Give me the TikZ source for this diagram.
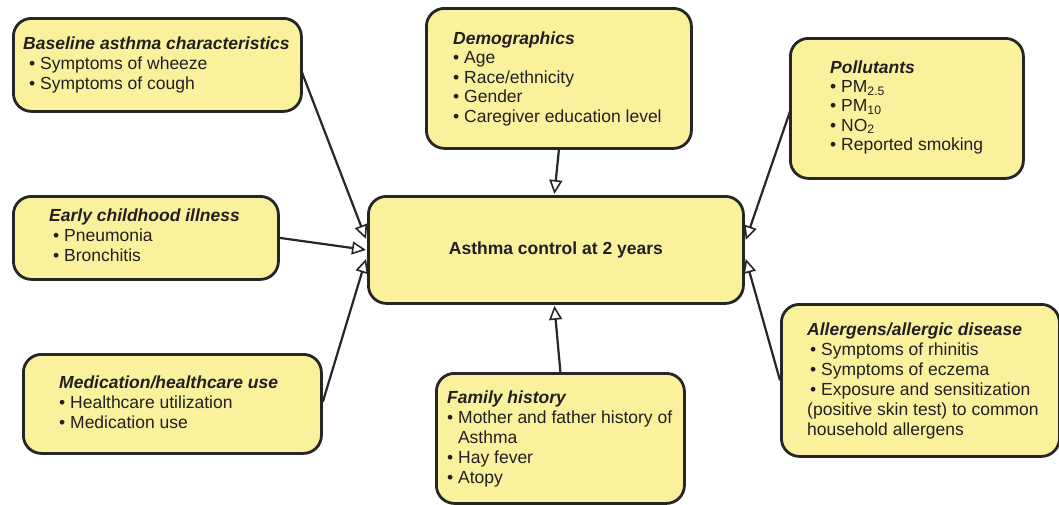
\documentclass[tikz,border=0pt]{standalone}
\usepackage{fontspec}
\setmainfont{Liberation Sans}
\usetikzlibrary{arrows.meta,calc}
\definecolor{boxfill}{RGB}{250,241,157}
\definecolor{boxline}{RGB}{38,38,38}
\definecolor{txtcol}{RGB}{35,31,32}
\newcommand{\hd}[1]{{\bfseries\itshape #1}}
\newcommand{\bl}{\textbullet\ }
\begin{document}
\begin{tikzpicture}[x=1pt,y=-1pt,
 box/.style={draw=boxline, fill=boxfill, line width=2.8pt, rounded corners=18pt, anchor=north west, inner sep=0pt},
 txt/.style={anchor=north west, inner sep=0pt, align=left, text=txtcol, font=\fontsize{17.5}{19.8}\selectfont},
 link/.style={draw=boxline, line width=2.2pt, -{Triangle[fill=white, length=14pt, width=13pt, line width=1.6pt]}}]
\useasboundingbox (0,0) rectangle (1059,504);

% boxes
\node[box, minimum width=288pt, minimum height=93pt] (base) at (12,17) {};
\node[box, minimum width=265pt, minimum height=140pt] (demo) at (425,7) {};
\node[box, minimum width=233pt, minimum height=140pt] (poll) at (789,37) {};
\node[box, minimum width=265pt, minimum height=83pt] (early) at (12,195) {};
\node[box, minimum width=375pt, minimum height=107pt, text=txtcol, font=\fontsize{17.5}{20}\selectfont\bfseries] (center) at (367,195) {Asthma control at 2 years};
\node[box, minimum width=298pt, minimum height=99pt] (med) at (22,353) {};
\node[box, minimum width=248pt, minimum height=130pt] (fam) at (435,372) {};
\node[box, minimum width=278pt, minimum height=152pt] (alle) at (780,303) {};

% texts
\node[txt] (baseT) at (23,36.7) {\hd{Baseline asthma characteristics}\\
 \hspace*{6pt}\bl Symptoms of wheeze\\
 \hspace*{6pt}\bl Symptoms of cough};
\node[txt, font=\fontsize{17.5}{19.4}\selectfont] (demoT) at (453,31.7) {\hd{Demographics}\\
 \bl Age\\ \bl Race/ethnicity\\ \bl Gender\\ \bl Caregiver education level};
\node[txt, font=\fontsize{17.5}{19.2}\selectfont] (pollT) at (830,60.7) {\hd{Pollutants}\\
 \bl PM\textsubscript{2.5}\\ \bl PM\textsubscript{10}\\ \bl NO\textsubscript{2}\\ \bl Reported smoking};
\node[txt] (earlyT) at (49,208.7) {\hd{Early childhood illness}\\
 \hspace*{4pt}\bl Pneumonia\\ \hspace*{4pt}\bl Bronchitis};
\node[txt] (medT) at (59,375.7) {\hd{Medication/healthcare use}\\
 \bl Healthcare utilization\\ \bl Medication use};
\node[txt, font=\fontsize{17.5}{20}\selectfont] (famT) at (447,390.7) {\hd{Family history}\\
 \bl Mother and father history of\\ \hspace*{10.8pt}Asthma\\ \bl Hay fever\\ \bl Atopy};
\node[txt, font=\fontsize{17.5}{20}\selectfont] (alleT) at (807,322.7) {\hd{Allergens/allergic disease}\\
 \hspace*{3pt}\bl Symptoms of rhinitis\\ \hspace*{3pt}\bl Symptoms of eczema\\
 \hspace*{3pt}\bl Exposure and sensitization\\ (positive skin test) to common\\ household allergens};

% connectors
\draw[link] ($(base.east)+(-2,4.5)$) -- ($(center.west)+(-1,-11)$);
\draw[link] (early.east) -- ($(center.west)+(-1,0)$);
\draw[link] ($(med.east)+(0,-2)$) -- ($(center.west)+(-1,9)$);
\draw[link] (demo.south) -- ($(center.north)+(-1.5,-1)$);
\draw[link] (fam.north) -- ($(center.south)+(-1.5,1)$);
\draw[link] ($(poll.west)+(1,3)$) -- ($(center.east)+(1,-10)$);
\draw[link] (alle.west) -- ($(center.east)+(1,9)$);
\end{tikzpicture}
\end{document}
